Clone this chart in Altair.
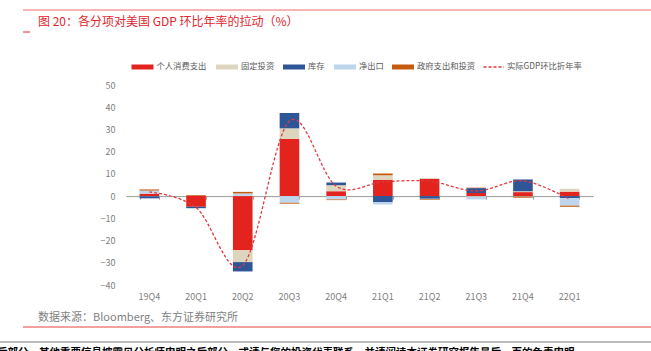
import altair as alt
import pandas as pd

quarters = ["19Q4", "20Q1", "20Q2", "20Q3", "20Q4", "21Q1", "21Q2", "21Q3", "21Q4", "22Q1"]
series = ["个人消费支出", "固定投资", "库存", "净出口", "政府支出和投资"]
colors = ["#E3231E", "#DDD5BE", "#2E5597", "#BDD6EE", "#C55A11"]

pce = [1.1, -4.8, -24.4, 25.7, 2.2, 7.4, 7.8, 1.4, 1.8, 2.0]
fixed_inv = [-0.1, 0.2, -5.3, 4.8, 2.7, 2.0, 0.3, -0.2, 0.4, 1.3]
inventory = [-0.9, -0.6, -4.2, 6.9, 1.2, -2.6, -1.2, 2.2, 5.3, -0.9]
net_exports = [1.4, -0.3, 1.2, -3.0, -1.5, -1.2, -0.1, -1.3, -0.2, -3.4]
government = [0.5, 0.3, 0.7, -0.4, -0.3, 0.8, -0.3, 0.2, -0.5, -0.5]
gdp = [1.9, -5.1, -31.2, 33.8, 4.5, 6.4, 6.7, 2.3, 6.9, -1.4]

line_name = "实际GDP环比折年率"
title_text = "图 20：各分项对美国 GDP 环比年率的拉动（%）"
source_text = "数据来源：Bloomberg、东方证券研究所"
footer_text = "后部分，其他重要信息披露见分析师申明之后部分，或请与您的投资代表联系，并请阅读本证券研究报告最后一页的免责申明。"

comp_values = [pce, fixed_inv, inventory, net_exports, government]
rows = []
for si, (name, vals) in enumerate(zip(series, comp_values)):
    for q, v in zip(quarters, vals):
        rows.append({"q": q, "series": name, "value": v, "idx": si})
df_bars = pd.DataFrame(rows)
df_gdp = pd.DataFrame({"q": quarters, "gdp": gdp})

FONT = "Noto Sans CJK SC"
W, H = 467, 200
ZERO_Y = H * 50 / 90

xscale = alt.Scale(domain=quarters, paddingInner=0.58, paddingOuter=0.29)
yscale = alt.Scale(domain=[-40, 50], nice=False, zero=False)
yaxis = alt.Axis(title=None, values=list(range(-40, 51, 10)), ticks=False, domain=False,
                 grid=False, labelPadding=11, labelFontSize=9, labelColor="#808080",
                 labelFont=FONT, labelOverlap=False)

bars = alt.Chart(df_bars).mark_bar().encode(
    x=alt.X("q:N", scale=xscale, sort=quarters,
            axis=alt.Axis(orient="bottom", title=None, labelAngle=0, ticks=False, domain=False,
                          labelPadding=7, labelFontSize=9, labelColor="#808080", labelFont=FONT)),
    y=alt.Y("value:Q", stack="zero", scale=yscale, axis=yaxis),
    color=alt.Color("series:N", scale=alt.Scale(domain=series, range=colors), legend=None),
    order=alt.Order("idx:Q", sort="ascending"),
)

zero_axis = alt.Chart(df_gdp).mark_point(opacity=0).encode(
    x=alt.X("q:N", scale=xscale, sort=quarters,
            axis=alt.Axis(orient="bottom", offset=-(H - ZERO_Y), labels=False, title=None,
                          domain=True, domainColor="#9a9a9a", domainWidth=1,
                          ticks=True, tickBand="extent", tickSize=3, tickColor="#9a9a9a")),
    y=alt.Y("gdp:Q", scale=yscale, axis=yaxis),
)

line = alt.Chart(df_gdp).mark_line(
    interpolate="cardinal", strokeDash=[3, 2], color="#E0393E", strokeWidth=1.3
).encode(
    x=alt.X("q:N", scale=xscale, sort=quarters, axis=None),
    y=alt.Y("gdp:Q", scale=yscale, axis=yaxis),
)

# legend (manual)
sw_x0 = [5.5, 90, 157, 208, 266]
df_leg = pd.DataFrame({"name": series, "c": colors, "x0": sw_x0,
                       "x1": [v + 22 for v in sw_x0], "tx": [v + 25 for v in sw_x0]})
leg_rect = alt.Chart(df_leg).mark_rect().encode(
    x=alt.X("x0:Q", scale=None), x2="x1:Q",
    y=alt.value(-20.5), y2=alt.value(-15.5),
    color=alt.Color("c:N", scale=None),
)
leg_text = alt.Chart(df_leg).mark_text(align="left", baseline="middle", fontSize=8.3,
                                       color="#595959", font=FONT).encode(
    x=alt.X("tx:Q", scale=None), y=alt.value(-18), text="name:N")
one = pd.DataFrame({"t": [line_name]})
leg_line = alt.Chart(one).mark_rule(color="#E0393E", strokeDash=[3, 2], strokeWidth=1.3).encode(
    x=alt.value(357.5), x2=alt.value(378), y=alt.value(-18))
leg_line_text = alt.Chart(one).mark_text(align="left", baseline="middle", fontSize=8.3,
                                         color="#595959", font=FONT).encode(
    x=alt.value(381), y=alt.value(-18), text="t:N")

# decorations
title = alt.Chart(pd.DataFrame({"t": [title_text]})).mark_text(
    align="left", baseline="middle", fontSize=12, color="#E1262D", font=FONT
).encode(x=alt.value(-88), y=alt.value(-63), text="t:N")
top_rule = alt.Chart(one).mark_rule(color="#EE6A6A", strokeWidth=1).encode(
    x=alt.value(-103), x2=alt.value(525), y=alt.value(-75))
small_rule = alt.Chart(one).mark_rule(color="#E1262D", strokeWidth=1).encode(
    x=alt.value(-103), x2=alt.value(-96), y=alt.value(-53))
source = alt.Chart(pd.DataFrame({"t": [source_text]})).mark_text(
    align="left", baseline="middle", fontSize=11, color="#7f7f7f", font=FONT
).encode(x=alt.value(-88), y=alt.value(233), text="t:N")
bottom_red = alt.Chart(one).mark_rule(color="#E8403F", strokeWidth=1).encode(
    x=alt.value(-103), x2=alt.value(525), y=alt.value(242))
bottom_gray = alt.Chart(one).mark_rule(color="#7a7a7a", strokeWidth=1.2).encode(
    x=alt.value(-126), x2=alt.value(525), y=alt.value(257))
footer = alt.Chart(pd.DataFrame({"t": [footer_text]})).mark_text(
    align="left", baseline="middle", fontSize=10.5, color="#000000", font=FONT, fontWeight="bold"
).encode(x=alt.value(-129), y=alt.value(268), text="t:N")

chart = alt.layer(
    zero_axis, bars, line,
    leg_rect, leg_text, leg_line, leg_line_text,
    title, top_rule, small_rule, source, bottom_red, bottom_gray, footer,
).resolve_axis(x="independent", y="shared").properties(
    width=W, height=H,
    autosize=alt.AutoSizeParams(type="none"),
    padding={"left": 126, "top": 85, "right": 58, "bottom": 66},
    background="white",
).configure_view(stroke=None)

chart.save("out.html", embed_options={"renderer": "svg", "actions": False})
